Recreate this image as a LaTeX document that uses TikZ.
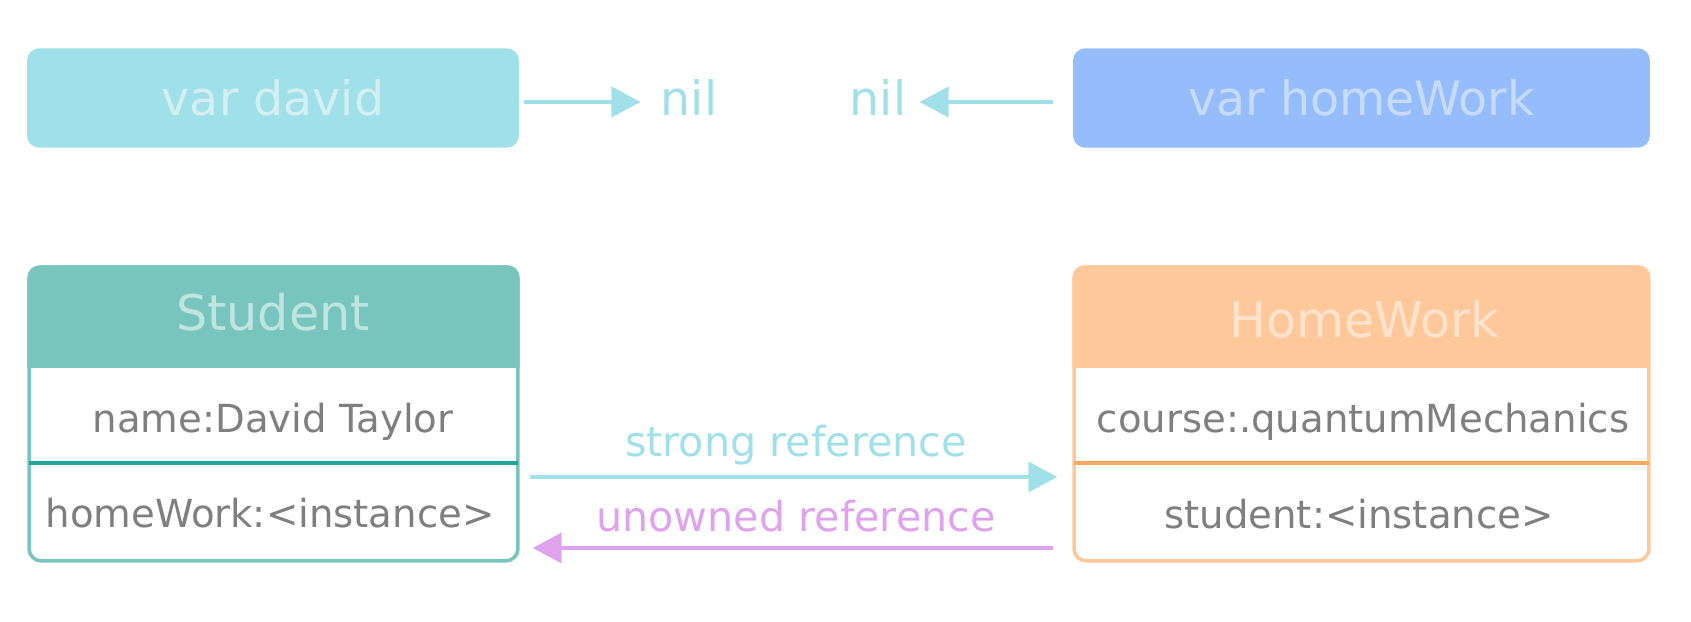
\documentclass[tikz,border=0pt]{standalone}
\usepackage{fontspec}
\setmainfont{DejaVu Sans}
\usetikzlibrary{arrows.meta,positioning}
\definecolor{varcyan}{HTML}{A0E1E9}
\definecolor{varcyantext}{HTML}{D3EFF2}
\definecolor{varblue}{HTML}{96BDFB}
\definecolor{varbluetext}{HTML}{C6DBF8}
\definecolor{tealhead}{HTML}{78C5BE}
\definecolor{tealtext}{HTML}{BFE5E1}
\definecolor{tealline}{HTML}{1CA89D}
\definecolor{peachhead}{HTML}{FEC89A}
\definecolor{peachtext}{HTML}{FFE3CC}
\definecolor{peachline}{HTML}{FBA962}
\definecolor{unownpink}{HTML}{DFA3EE}
\definecolor{rowgray}{HTML}{7F7F7F}

\begin{document}
\begin{tikzpicture}[x=0.02cm,y=-0.02cm,
    varbox/.style={rounded corners=7pt,inner sep=0pt,font=\fontsize{27}{32}\selectfont},
    classbox/.style={draw,fill=white,line width=2pt,rounded corners=7pt,inner sep=0pt},
    headtext/.style={anchor=base,font=\fontsize{28}{33}\selectfont},
    rowtext/.style={anchor=base,text=rowgray,font=\fontsize{22}{26}\selectfont},
    niltext/.style={anchor=base,text=varcyan,inner sep=0pt,font=\fontsize{27}{32}\selectfont},
    reflabel/.style={anchor=base,font=\fontsize{23.5}{28}\selectfont},
    refarrow/.style={line width=2.3pt,-{Triangle[length=0.58cm,width=0.6cm]}}]
    \useasboundingbox (0,0) rectangle (1691,622);

    \node[varbox,fill=varcyan,text=varcyantext,minimum width=9.84cm,minimum height=1.99cm] (davidvar) at (273,98) {var david};
    \node[varbox,fill=varblue,text=varbluetext,minimum width=11.54cm,minimum height=1.99cm] (homeworkvar) at (1361.5,98) {var homeWork};
    \node[niltext] (nilleft) at (689,115) {nil};
    \node[niltext] (nilright) at (878,115) {nil};
    \draw[refarrow,varcyan,shorten <=0.1cm,shorten >=0.4cm] ([yshift=-0.1cm]nilleft.west -| davidvar.east) -- ([yshift=-0.1cm]nilleft.west);
    \draw[refarrow,varcyan,shorten <=0.4cm,shorten >=0.26cm] ([yshift=-0.1cm]nilright.east -| homeworkvar.west) -- ([yshift=-0.1cm]nilright.east);

    \node[classbox,draw=tealhead,minimum width=9.78cm,minimum height=5.88cm] (student) at (273.5,414) {};
    \begin{scope}
        \clip[rounded corners=7pt] (student.north west) rectangle (student.south east);
        \fill[tealhead] (student.north west) rectangle ([yshift=-2.06cm]student.north east);
    \end{scope}
    \draw[tealline,line width=2pt] ([xshift=1pt,yshift=-3.96cm]student.north west) -- ([xshift=-1pt,yshift=-3.96cm]student.north east);
    \node[headtext,text=tealtext] (studenttitle) at (273,330) {Student};
    \node[rowtext] (studentname) at (273,432) {name:David Taylor};
    \node[rowtext] (studenthw) at (270,527) {homeWork:<instance>};

    \node[classbox,draw=peachhead,minimum width=11.5cm,minimum height=5.88cm] (homework) at (1361.5,414) {};
    \begin{scope}
        \clip[rounded corners=7pt] (homework.north west) rectangle (homework.south east);
        \fill[peachhead] (homework.north west) rectangle ([yshift=-2.06cm]homework.north east);
    \end{scope}
    \draw[peachline,line width=2pt] ([xshift=1pt,yshift=-3.96cm]homework.north west) -- ([xshift=-1pt,yshift=-3.96cm]homework.north east);
    \node[headtext,text=peachtext] (homeworktitle) at (1364,337) {HomeWork};
    \node[rowtext] (homeworkcourse) at (1363,432) {course:.quantumMechanics};
    \node[rowtext] (homeworkstudent) at (1359,528) {student:<instance>};

    \draw[refarrow,varcyan,shorten <=0.2cm,shorten >=0.3cm] ([yshift=-1.26cm]student.east) -- ([yshift=-1.26cm]homework.west)
        node[reflabel,midway,yshift=0.4cm,text=varcyan] {strong reference};
    \draw[refarrow,unownpink,shorten <=0.38cm,shorten >=0.26cm] ([yshift=-2.68cm]homework.west) -- ([yshift=-2.68cm]student.east)
        node[reflabel,midway,yshift=0.32cm,text=unownpink] {unowned reference};
\end{tikzpicture}
\end{document}
